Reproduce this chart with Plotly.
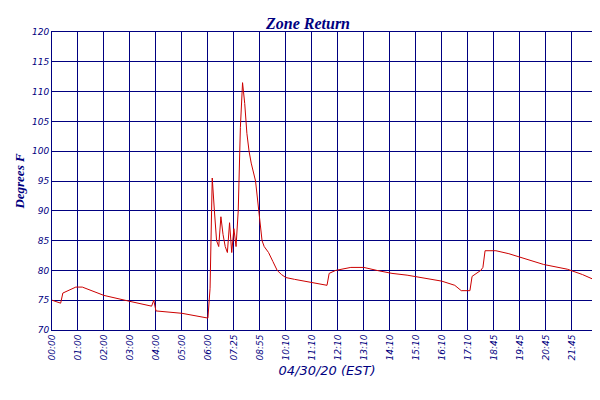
import plotly.graph_objects as go

# sample index (5-minute steps, gaps removed) and zone return temperature
sample = [0, 4, 5, 11, 14, 24, 36, 46, 47, 48, 60, 72, 73, 74, 75, 76, 77, 78, 79,
          80, 81, 82, 83, 84, 85, 86, 87, 88, 89, 90, 91, 92, 94, 95, 96, 97, 98,
          100, 102, 104, 106, 108, 112, 120, 125, 127, 128, 131, 138, 144, 150,
          157, 164, 171, 180, 186, 189, 193, 194, 198, 199, 200, 205, 211, 218,
          227, 238, 245, 250, 254]
temp = [75.0, 74.5, 76.2, 77.2, 77.2, 75.8, 74.8, 74.0, 75.0, 73.2, 72.8, 72.0,
        77.0, 95.5, 90.0, 85.0, 84.0, 89.0, 86.0, 84.0, 83.0, 88.0, 83.0, 87.0,
        84.0, 90.0, 104.0, 111.5, 108.0, 103.0, 100.0, 98.0, 95.0, 92.0, 89.0,
        85.0, 84.0, 83.0, 81.5, 80.0, 79.3, 78.8, 78.5, 78.0, 77.6, 77.5, 79.5,
        80.0, 80.5, 80.5, 80.0, 79.5, 79.2, 78.8, 78.2, 77.5, 76.6, 76.6, 79.0,
        80.0, 80.5, 83.3, 83.3, 82.8, 82.0, 81.0, 80.2, 79.3, 78.5, 78.0]

tick_pos = list(range(0, 253, 12)) + [254]
tick_text = ["00:00", "01:00", "02:00", "03:00", "04:00", "05:00", "06:00",
             "07:25", "08:55", "10:10", "11:10", "12:10", "13:10", "14:10",
             "15:10", "16:10", "17:10", "18:45", "19:45", "20:45", "21:45",
             "22:50", "23:00"]

navy = "#000080"
fig = go.Figure()
fig.add_trace(go.Scatter(x=sample, y=temp, mode="lines", name="Zone Return",
                         line=dict(color="#cc0000", width=1)))
fig.update_layout(
    width=600, height=400,
    margin=dict(l=44, r=6, t=24, b=78, autoexpand=False),
    paper_bgcolor="white", plot_bgcolor="white",
    font=dict(family="DejaVu Sans", color=navy, size=10),
    title=dict(text="<b><i>Zone Return</i></b>", x=0.5, y=0.975,
               font=dict(size=16, color=navy, family="Liberation Serif")),
    showlegend=True,
    legend=dict(orientation="h", x=0.5, xanchor="center", y=-0.2, yanchor="top",
                font=dict(size=11, family="DejaVu Sans", style="italic")),
    xaxis=dict(range=[0, 254], tickvals=tick_pos, ticktext=tick_text,
               tickangle=-90, showgrid=True, gridcolor=navy, gridwidth=1,
               showline=True, linecolor=navy, mirror=True, zeroline=False,
               automargin=False, ticklabeloverflow="allow",
               tickfont=dict(size=9, style="italic"),
               title=dict(text="<i>04/30/20 (EST)</i>", font=dict(size=13),
                          standoff=6)),
    yaxis=dict(range=[70, 120], dtick=5, showgrid=True, gridcolor=navy,
               showline=True, linecolor=navy, mirror=True, zeroline=False,
               automargin=False, tickfont=dict(size=9, style="italic"),
               title=dict(text="<b><i>Degrees F</i></b>", font=dict(size=13,
                          family="Liberation Serif"), standoff=4)),
)
fig.write_html("out.html")
